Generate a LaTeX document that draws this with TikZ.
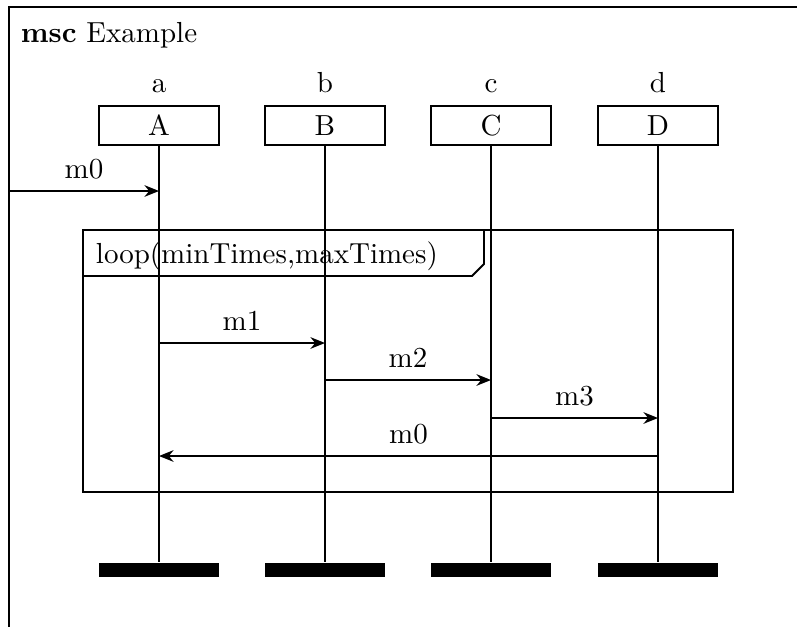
\documentclass[tikz,border=0pt]{standalone}
\usetikzlibrary{arrows.meta}
\begin{document}
\begin{tikzpicture}[x=0.3448pt,y=-0.3448pt,
  line width=0.65pt,
  inst/.style={draw,rectangle,inner sep=0pt,minimum width=41.4pt,minimum height=13.45pt,fill=white},
  instend/.style={fill=black,rectangle,inner sep=0pt,minimum width=41.4pt,minimum height=4.83pt},
  msg/.style={-{Stealth[length=5pt,width=4pt,inset=1.6pt]}},
  msglabel/.style={anchor=base,inner sep=0pt},
  instname/.style={anchor=base,inner sep=0pt}]
\useasboundingbox (0,0) rectangle (797,626);
\clip (0,0) rectangle (797,626);

% frame of the chart
\draw (9,7) rectangle (820,660);
\node[anchor=base west,inner sep=0pt] (title) at (20,42) {\textbf{msc} Example};

% instance heads, lifelines and instance ends
\foreach \n/\N/\x in {a/A/159,b/B/325,c/C/491,d/D/658}{
  \node[instname] (\n lab) at (\x,92) {\n};
  \node[inst] (\N) at (\x,125.5) {\N};
  \node[instend] (\N end) at (\x,570) {};
  \draw (\N.south) -- (\N end.north);
}

% loop inline expression
\draw (83,230) rectangle (733,492);
\draw (83,276) -- (472,276) -- (484,264) -- (484,230);
\node[anchor=base west,inner sep=0pt] (looplab) at (95,263) {loop(minTimes,maxTimes)};

% message end points on the lifelines
\coordinate (env) at (9,191);
\coordinate (a0) at (A.south |- env);
\coordinate (a1) at (159,343);
\coordinate (b1) at (325,343);
\coordinate (b2) at (325,380);
\coordinate (c2) at (491,380);
\coordinate (c3) at (491,418);
\coordinate (d3) at (658,418);
\coordinate (d4) at (658,456);
\coordinate (a4) at (159,456);

% messages
\draw[msg] (env) -- (a0) node[msglabel,pos=0.5,yshift=13*0.3448pt] (lm0) {m0};
\draw[msg] (a1) -- (b1) node[msglabel,pos=0.5,yshift=13*0.3448pt] (lm1) {m1};
\draw[msg] (b2) -- (c2) node[msglabel,pos=0.5,yshift=13*0.3448pt] (lm2) {m2};
\draw[msg] (c3) -- (d3) node[msglabel,pos=0.5,yshift=13*0.3448pt] (lm3) {m3};
\draw[msg] (d4) -- (a4) node[msglabel,pos=0.5,yshift=13*0.3448pt] (lm4) {m0};
\end{tikzpicture}
\end{document}
